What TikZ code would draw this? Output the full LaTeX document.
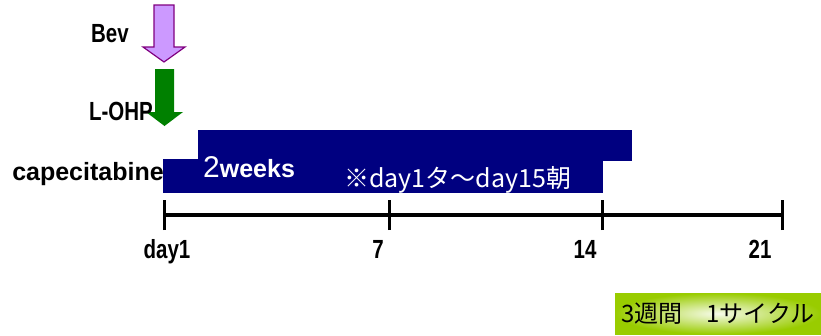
\documentclass[tikz,border=0pt]{standalone}
\usepackage{graphicx}
\usepackage{fontspec}
\setmainfont{Liberation Sans}
\newfontfamily\jpfont{Noto Sans CJK JP}
\usetikzlibrary{positioning}
\definecolor{bevpurple}{RGB}{204,153,255}
\definecolor{bevedge}{RGB}{128,0,128}
\definecolor{ohpgreen}{RGB}{0,128,0}
\definecolor{capnavy}{RGB}{0,0,128}
\definecolor{cyclegreen}{RGB}{153,204,0}
\newcommand{\cond}[1]{\scalebox{0.82}[1.05]{#1}}
\tikzstyle{drug} = [font=\bfseries\fontsize{25}{25}\selectfont, anchor=base, inner sep=0pt]
\tikzstyle{daylbl} = [font=\bfseries\fontsize{25}{25}\selectfont, anchor=base, inner sep=0pt]
\tikzstyle{tick} = [line width=3pt]

\begin{document}
\begin{tikzpicture}[x=1pt,y=-1pt]
\useasboundingbox (0,0) rectangle (821,335);

% Bev arrow
\draw[bevedge, fill=bevpurple, line width=1.2pt] (154,5) -- (174,5) -- (174,47) -- (185,47) -- (164,62) -- (143,47) -- (154,47) -- cycle;
\node[drug] (bev) at (110,42) {\cond{Bev}};

% L-OHP arrow
\fill[ohpgreen] (155,69) -- (174,69) -- (174,112) -- (183,112) -- (164.5,126) -- (146,112) -- (155,112) -- cycle;
\node[drug] (lohp) at (121,120) {\cond{L-OHP}};

% capecitabine bar
\fill[capnavy] (198,130) rectangle (632,161);
\fill[capnavy] (163,159) rectangle (603,193);
\node[drug] (cape) at (88,180) {capecitabine};
\node[anchor=base west, inner sep=0pt, white, font=\bfseries\fontsize{25}{25}\selectfont] (weeks) at (203,177) {{\mdseries\fontsize{30}{30}\selectfont 2}weeks};
\node[anchor=base west, inner sep=0pt, white, font=\jpfont\fontsize{25}{25}\selectfont] (note) at (344,187) {※day1タ～day15朝};

% Timeline
\coordinate (d1) at (164,215);
\coordinate (d7) at (389,215);
\coordinate (d14) at (602,215);
\coordinate (d21) at (782,215);
\draw[line width=4pt] (d1) -- (d21);
\foreach \t in {d1,d7,d14,d21}
  \draw[tick] ([yshift=-15pt]\t) -- ([yshift=15pt]\t);

% Labels
\node[daylbl] (l1) at (167,258) {\cond{day1}};
\node[daylbl] (l7) at (378,258) {\cond{7}};
\node[daylbl] (l14) at (585,258) {\cond{14}};
\node[daylbl] (l21) at (760,258) {\cond{21}};

% Cycle box
\node[shading=radial, inner color=cyclegreen!8, outer color=cyclegreen, minimum width=206pt, minimum height=41pt, inner sep=0pt, font=\jpfont\fontsize{24}{24}\selectfont] (cycle) at (718,313.5) {3週間　1サイクル};
\end{tikzpicture}
\end{document}
